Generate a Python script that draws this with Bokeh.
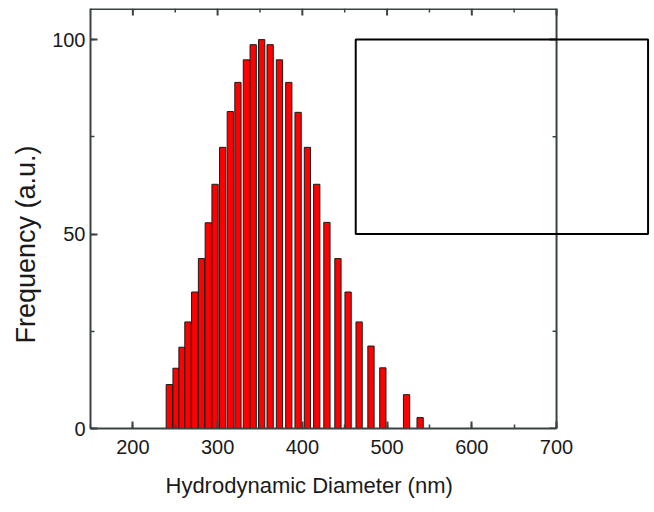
from bokeh.plotting import figure
from bokeh.models import Span, SingleIntervalTicker, BoxAnnotation, Range1d, Title
from bokeh.embed import file_html
from bokeh.resources import INLINE

# ---- data ----
diameter_nm = [243, 251, 258, 265, 273, 281, 289, 297, 306, 315, 324, 334, 342, 352,
               362, 373, 384, 395, 406, 417, 429, 442, 454, 467, 481, 495, 523, 539]
frequency = [11.3, 15.5, 20.9, 27.4, 35.1, 43.7, 52.9, 62.8, 72.3, 81.5, 89.0, 94.8, 98.7, 100.0,
             98.7, 94.8, 89.0, 81.3, 72.3, 62.8, 53.0, 43.7, 35.1, 27.4, 21.2, 15.6, 8.7, 2.8]

x_axis_span = (150, 700)      # visible axis frame in nm
y_axis_span = (0, 108)
x_tick_step = 100
y_tick_step = 50
x_major = [200, 300, 400, 500, 600, 700]
x_minor = [250, 350, 450, 550, 650]
y_major = [0, 50, 100]
y_minor = [25, 75]
inset_box = dict(left=463, right=808, bottom=50, top=100)   # empty inset frame

x_title = "Hydrodynamic Diameter (nm)"
y_title = "Frequency (a.u.)"

AX = "#3a4242"
FONT = "Liberation Sans"
TXT = "#1a1a1a"

p = figure(width=654, height=512, output_backend="svg", toolbar_location=None,
           x_range=Range1d(150, 815.6), y_range=Range1d(*y_axis_span),
           min_border_left=90, min_border_right=0, min_border_top=8, min_border_bottom=84,
           background_fill_color="white", border_fill_color="white")
p.outline_line_color = None
p.grid.visible = False

p.vbar(x=diameter_nm, top=frequency, bottom=0, width=7.4,
       fill_color="#ff0000", line_color="#1a1a1a", line_width=1)

def style(ax):
    ax.axis_line_color = AX
    ax.axis_line_width = 2
    ax.major_tick_line_color = AX
    ax.major_tick_line_width = 2
    ax.minor_tick_line_color = AX
    ax.minor_tick_line_width = 1.5
    ax.major_tick_in = 7
    ax.major_tick_out = 0
    ax.minor_tick_in = 4
    ax.minor_tick_out = 0
    ax.major_label_text_font = FONT
    ax.major_label_text_font_size = "20px"
    ax.major_label_text_color = TXT

xa = p.xaxis[0]
xa.ticker = SingleIntervalTicker(interval=x_tick_step, num_minor_ticks=2)
xa.bounds = x_axis_span
style(xa)
xa.major_label_standoff = 11

ya = p.yaxis[0]
ya.ticker = SingleIntervalTicker(interval=y_tick_step, num_minor_ticks=2)
style(ya)
ya.major_label_standoff = 5

# axis titles as side titles so they can be placed like the reference
p.add_layout(Title(text=x_title, align="left", offset=75, standoff=29,
                   text_font=FONT, text_font_size="22px", text_font_style="normal",
                   text_color=TXT), "below")
p.add_layout(Title(text=y_title, align="left", offset=85, standoff=17,
                   text_font=FONT, text_font_size="27px", text_font_style="normal",
                   text_color=TXT), "left")

# right border of the axis frame
p.add_layout(Span(location=x_axis_span[1], dimension="height", line_color=AX, line_width=2))

# top border of the axis frame
p.segment(x0=[x_axis_span[0]], y0=[y_axis_span[1]], x1=[x_axis_span[1]], y1=[y_axis_span[1]],
          line_color=AX, line_width=3)

# inward ticks on the top border
tmaj, tmin = 1.8, 1.0
p.segment(x0=x_major, y0=[y_axis_span[1]] * len(x_major),
          x1=x_major, y1=[y_axis_span[1] - tmaj] * len(x_major),
          line_color=AX, line_width=2)
p.segment(x0=x_minor, y0=[y_axis_span[1]] * len(x_minor),
          x1=x_minor, y1=[y_axis_span[1] - tmin] * len(x_minor),
          line_color=AX, line_width=1.5)

# inward ticks on the right border
rmaj, rmin = 8.3, 4.7
p.segment(x0=[x_axis_span[1] - rmaj] * len(y_major), y0=y_major,
          x1=[x_axis_span[1]] * len(y_major), y1=y_major,
          line_color=AX, line_width=2)
p.segment(x0=[x_axis_span[1] - rmin] * len(y_minor), y0=y_minor,
          x1=[x_axis_span[1]] * len(y_minor), y1=y_minor,
          line_color=AX, line_width=1.5)

p.add_layout(BoxAnnotation(fill_color=None, fill_alpha=0, line_color="black",
                           line_width=2, line_alpha=1, **inset_box))

open("out.html", "w").write(file_html(p, INLINE))
